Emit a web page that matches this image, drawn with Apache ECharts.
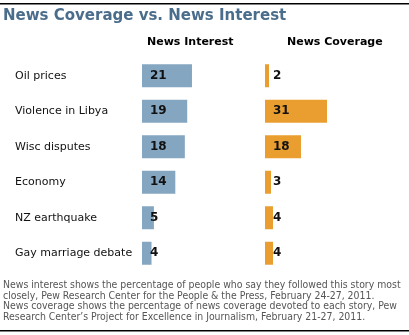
<!DOCTYPE html>
<html>
<head>
<meta charset="utf-8">
<script src="https://cdn.jsdelivr.net/npm/echarts@6/dist/echarts.min.js"></script>
<style>
html,body{margin:0;padding:0;background:#fff;}
#chart{width:409px;height:335px;}
</style>
</head>
<body>
<div id="chart"></div>
<script>
var categories = ['Oil prices', 'Violence in Libya', 'Wisc disputes', 'Economy', 'NZ earthquake', 'Gay marriage debate'];
var newsInterest = [21, 19, 18, 14, 5, 4];
var newsCoverage = [2, 31, 18, 3, 4, 4];
var titleText = 'News Coverage vs. News Interest';
var seriesNames = ['News Interest', 'News Coverage'];
var footnoteLines = [
  'News interest shows the percentage of people who say they followed this story most',
  'closely, Pew Research Center for the People & the Press, February 24-27, 2011.',
  'News coverage shows the percentage of news coverage devoted to each story, Pew',
  'Research Center\u2019s Project for Excellence in Journalism, February 21-27, 2011.'
];

var chart = echarts.init(document.getElementById('chart'), null, {renderer: 'canvas'});
var FONT = 'DejaVu Sans';
var labelStyle = {
  show: true, position: 'insideLeft', distance: 8,
  fontFamily: FONT, fontWeight: 'bold', fontSize: 12, color: '#111'
};
var option = {
  animation: false,
  backgroundColor: '#fff',
  grid: [
    {left: 142, top: 58, width: 119, height: 213},
    {left: 265, top: 58, width: 100, height: 213}
  ],
  xAxis: [
    {gridIndex: 0, type: 'value', min: 0, max: 50, show: false},
    {gridIndex: 1, type: 'value', min: 0, max: 50, show: false}
  ],
  yAxis: [
    {gridIndex: 0, type: 'category', data: categories, inverse: true,
     axisLine: {show: false}, axisTick: {show: false}, splitLine: {show: false},
     axisLabel: {align: 'left', margin: 127, fontFamily: FONT, fontSize: 11, color: '#111', padding: [2, 0, 0, 0]}},
    {gridIndex: 1, type: 'category', data: categories, inverse: true, show: false}
  ],
  series: [
    {name: seriesNames[0], type: 'bar', xAxisIndex: 0, yAxisIndex: 0, data: newsInterest,
     barWidth: 23, itemStyle: {color: '#84A6C1'}, label: labelStyle},
    {name: seriesNames[1], type: 'bar', xAxisIndex: 1, yAxisIndex: 1, data: newsCoverage,
     barWidth: 23, itemStyle: {color: '#EA9E2F'}, label: labelStyle}
  ],
  graphic: [
    {type: 'rect', shape: {x: 0, y: 3, width: 409, height: 1.5}, style: {fill: '#000'}},
    {type: 'rect', shape: {x: 0, y: 330, width: 409, height: 1.5}, style: {fill: '#000'}},
    {type: 'text', left: 3, top: 9, style: {text: titleText, fontFamily: FONT, fontWeight: 'bold', fontSize: 15, fill: '#4B6D8C'}},
    {type: 'text', left: 147, top: 37, style: {text: seriesNames[0], fontFamily: FONT, fontWeight: 'bold', fontSize: 11, fill: '#000'}},
    {type: 'text', left: 287, top: 37, style: {text: seriesNames[1], fontFamily: FONT, fontWeight: 'bold', fontSize: 11, fill: '#000'}},
    {type: 'text', left: 3, top: 280, style: {text: footnoteLines.join('\n'), fontFamily: 'DejaVu Sans Condensed', fontSize: 10.4, lineHeight: 10.7, fill: '#555'}}
  ]
};
chart.setOption(option);
</script>
</body>
</html>
